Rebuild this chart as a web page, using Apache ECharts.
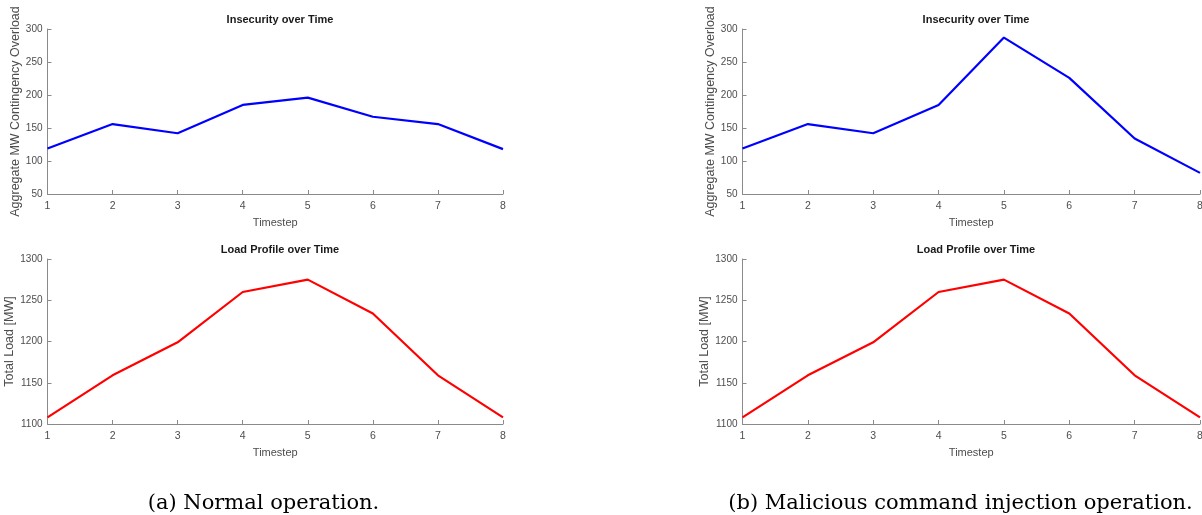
<!DOCTYPE html>
<html>
<head>
<meta charset="utf-8">
<script src="https://cdn.jsdelivr.net/npm/echarts@6/dist/echarts.min.js"></script>
<style>
html,body{margin:0;padding:0;background:#fff;overflow:hidden;}
#main{width:1202px;height:515px;}
</style>
</head>
<body>
<div id="main"></div>
<script>
const timesteps = [1, 2, 3, 4, 5, 6, 7, 8];
const insecurityNormal = [119, 156, 142, 185, 196, 167, 156, 118];
const insecurityMalicious = [119, 156, 142, 185, 287, 226, 134, 82];
const loadNormal = [1108, 1159, 1199, 1260, 1275, 1234, 1159, 1108];
const loadMalicious = [1108, 1159, 1199, 1260, 1275, 1234, 1159, 1108];
const topTitle = 'Insecurity over Time';
const bottomTitle = 'Load Profile over Time';
const topYName = 'Aggregate MW Contingency Overload';
const bottomYName = 'Total Load [MW]';
const xName = 'Timestep';
const captionA = '(a) Normal operation.';
const captionB = '(b) Malicious command injection operation.';

const pairs = (vals) => timesteps.map((t, i) => [t, vals[i]]);

const FONT = '"Liberation Sans", Arial, sans-serif';
const AXIS_COLOR = '#8a8a8a';
const LABEL_COLOR = '#4d4d4d';

const grids = [
  {left: 47.5, top: 29, width: 455.5, height: 165, outerBoundsMode: 'none', containLabel: false},
  {left: 742.5, top: 29, width: 457.5, height: 165, outerBoundsMode: 'none', containLabel: false},
  {left: 47.5, top: 259, width: 455.5, height: 165, outerBoundsMode: 'none', containLabel: false},
  {left: 742.5, top: 259, width: 457.5, height: 165, outerBoundsMode: 'none', containLabel: false}
];

function xAxis(gi) {
  return {
    type: 'value', gridIndex: gi, min: 1, max: 8, interval: 1,
    name: xName, nameLocation: 'middle', nameGap: 23, nameMoveOverlap: false,
    nameTextStyle: {color: LABEL_COLOR, fontSize: 11, fontFamily: FONT},
    axisLine: {show: true, lineStyle: {color: AXIS_COLOR, width: 1}},
    axisTick: {show: true, inside: true, length: 4, lineStyle: {color: AXIS_COLOR}},
    axisLabel: {color: LABEL_COLOR, fontSize: 10.5, fontFamily: FONT, margin: 7,
      formatter: (v) => String(v)},
    splitLine: {show: false}
  };
}
function yAxis(gi, min, max, interval, name, gap) {
  return {
    type: 'value', gridIndex: gi, min: min, max: max, interval: interval,
    name: name, nameLocation: 'middle', nameGap: gap, nameMoveOverlap: false,
    nameTextStyle: {color: LABEL_COLOR, fontSize: 12.5, fontFamily: FONT},
    axisLine: {show: true, lineStyle: {color: AXIS_COLOR, width: 1}},
    axisTick: {show: true, inside: true, length: 4, lineStyle: {color: AXIS_COLOR}},
    axisLabel: {color: LABEL_COLOR, fontSize: 10, fontFamily: FONT, margin: 5,
      formatter: (v) => String(v)},
    splitLine: {show: false}
  };
}
function series(gi, vals, color) {
  return {
    type: 'line', xAxisIndex: gi, yAxisIndex: gi, data: pairs(vals),
    symbol: 'none', lineStyle: {color: color, width: 2.2}, animation: false
  };
}
function title(text, cx, top) {
  return {
    text: text, left: cx, top: top, textAlign: 'center',
    textStyle: {fontFamily: FONT, fontSize: 11, fontWeight: 'bold', color: '#1a1a1a'}
  };
}
function caption(text, cx) {
  return {
    text: text, left: cx, top: 488, textAlign: 'center',
    textStyle: {fontFamily: '"DejaVu Serif", serif', fontSize: 21, fontWeight: 'normal', color: '#000'}
  };
}

const chart = echarts.init(document.getElementById('main'));
chart.setOption({
  backgroundColor: '#fff',
  animation: false,
  title: [
    title(topTitle, 275, 9),
    title(topTitle, 971, 9),
    title(bottomTitle, 275, 239),
    title(bottomTitle, 971, 239),
    caption(captionA, 258.5),
    caption(captionB, 955.5)
  ],
  grid: grids,
  xAxis: [xAxis(0), xAxis(1), xAxis(2), xAxis(3)],
  yAxis: [
    yAxis(0, 50, 300, 50, topYName, 25),
    yAxis(1, 50, 300, 50, topYName, 25),
    yAxis(2, 1100, 1300, 50, bottomYName, 31),
    yAxis(3, 1100, 1300, 50, bottomYName, 31)
  ],
  series: [
    series(0, insecurityNormal, '#0000ff'),
    series(1, insecurityMalicious, '#0000ff'),
    series(2, loadNormal, '#ff0000'),
    series(3, loadMalicious, '#ff0000')
  ]
});
</script>
</body>
</html>
